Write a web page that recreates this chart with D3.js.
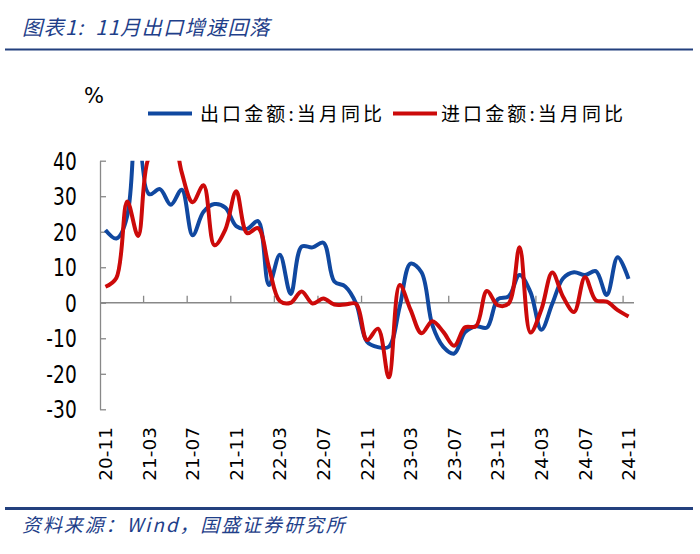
<!DOCTYPE html>
<html><head><meta charset="utf-8">
<script src="https://cdn.jsdelivr.net/npm/d3@7"></script>
<style>
body{margin:0;background:#fff;}
svg{display:block;}
</style></head>
<body>
<svg id="chart" width="700" height="554"></svg>
<script>
const categories = ["20-11","20-12","21-01","21-02","21-03","21-04","21-05","21-06","21-07","21-08","21-09","21-10","21-11","21-12",
"22-01","22-02","22-03","22-04","22-05","22-06","22-07","22-08","22-09","22-10","22-11","22-12",
"23-01","23-02","23-03","23-04","23-05","23-06","23-07","23-08","23-09","23-10","23-11","23-12",
"24-01","24-02","24-03","24-04","24-05","24-06","24-07","24-08","24-09","24-10","24-11"];
const exportsYoY = [20.5,18.1,24.5,154.9,30.6,32.0,27.6,31.8,19.0,25.6,27.8,26.8,21.6,20.8,
23.0,5.0,13.5,2.5,15.8,15.6,16.9,6.0,4.6,-0.2,-11.0,-12.5,
-12.4,-1.1,11.0,8.6,-6.3,-12.4,-14.3,-8.3,-6.6,-7.0,1.0,1.8,
7.8,3.0,-7.6,-0.3,6.9,8.6,7.8,8.9,2.2,12.8,6.7];
const importsYoY = [4.5,7.0,28.5,18.8,41.0,43.1,51.1,36.7,28.3,33.1,16.2,20.6,31.4,19.6,
21.0,10.0,0.5,0.0,3.2,-0.2,1.2,-0.5,-0.5,-0.3,-10.5,-7.3,
-21.0,5.0,-2.0,-8.6,-5.2,-8.2,-12.1,-6.9,-6.6,3.3,-0.7,-0.2,
15.6,-8.4,-1.9,8.5,1.6,-2.6,7.2,0.7,0.3,-2.1,-3.9];
const yTicks = [-30,-20,-10,0,10,20,30,40];
const xTickLabels = categories.filter((d,i)=>i%4===0);
const seriesNames = ["出口金额:当月同比","进口金额:当月同比"];
const seriesColors = ["#1048a0","#cc0a0a"];

const svg = d3.select("#chart");
const L = 100, R = 634, T = 160.7, B = 409.3;
const x = d3.scaleBand().domain(categories).range([L, R]).padding(0);
const y = d3.scaleLinear().domain([-30, 40]).range([B, T]);
const bw = x.bandwidth();

// title
const navy = "#1f3f8a";
svg.append("text").attr("x", 22).attr("y", 35)
  .attr("font-family", "'Noto Sans CJK SC', sans-serif").attr("font-style", "italic")
  .attr("font-size", 20.5).attr("fill", navy).attr("letter-spacing", 1.0)
  .attr("xml:space", "preserve")
  .text("图表1:  11月出口增速回落");
svg.append("line").attr("x1", 5).attr("x2", 693).attr("y1", 49.5).attr("y2", 49.5)
  .attr("stroke", "#23407e").attr("stroke-width", 2);

// footer
svg.append("line").attr("x1", 5).attr("x2", 693).attr("y1", 508.5).attr("y2", 508.5)
  .attr("stroke", "#23407e").attr("stroke-width", 3);
svg.append("text").attr("x", 22).attr("y", 532)
  .attr("font-family", "'Noto Sans CJK SC', sans-serif").attr("font-style", "italic")
  .attr("font-size", 19).attr("fill", navy).attr("letter-spacing", 1.9)
  .text("资料来源：Wind，国盛证券研究所");

// % unit
svg.append("text").attr("x", 84).attr("y", 103)
  .attr("font-family", "'DejaVu Sans', sans-serif").attr("font-size", 21).attr("fill", "#000")
  .text("%");

// legend
const lg = svg.append("g");
const legendItems = [{lx: 148, tx: 200}, {lx: 393, tx: 441}];
seriesNames.forEach((name, i) => {
  const it = legendItems[i];
  lg.append("line").attr("x1", it.lx).attr("x2", it.lx + 44).attr("y1", 113.5).attr("y2", 113.5)
    .attr("stroke", seriesColors[i]).attr("stroke-width", 4);
  lg.append("text").attr("x", it.tx).attr("y", 120.5)
    .attr("font-family", "'Noto Sans CJK SC', sans-serif").attr("font-size", 19)
    .attr("letter-spacing", 3.1).attr("fill", "#000").text(name);
});

// y axis
const yAxis = d3.axisLeft(y).tickValues(yTicks).tickSize(-6).tickSizeOuter(0).tickPadding(24)
  .tickFormat(d => String(d));
const gy = svg.append("g").attr("transform", `translate(${L},0)`).call(yAxis);
gy.select(".domain").attr("stroke", "#888").attr("stroke-width", 1.3);
gy.selectAll(".tick line").attr("stroke", "#888").attr("stroke-width", 1.3);
gy.selectAll(".tick text").attr("font-family", "'DejaVu Sans', sans-serif").attr("font-size", 20)
  .attr("fill", "#000").attr("x", -25).attr("dy", "0.36em")
  .attr("transform", "scale(0.93,1.2)");

// x axis (zero line + ticks at category boundaries)
svg.append("line").attr("x1", L).attr("x2", R).attr("y1", y(0)).attr("y2", y(0))
  .attr("stroke", "#888").attr("stroke-width", 1.3);
svg.append("g").selectAll("line").data(categories.filter((d,i)=>i%4===0 && i>0)).join("line")
  .attr("x1", d => x(d)).attr("x2", d => x(d)).attr("y1", y(0)).attr("y2", y(0) - 7)
  .attr("stroke", "#888").attr("stroke-width", 1.3);

const xAxis = d3.axisBottom(x).tickValues(xTickLabels).tickSize(0).tickPadding(0);
const gx = svg.append("g").attr("transform", `translate(0,427)`).call(xAxis);
gx.select(".domain").remove();
gx.selectAll(".tick text").attr("font-family", "'DejaVu Sans', sans-serif").attr("font-size", 18.5)
  .attr("fill", "#000").attr("transform", "rotate(-90)").attr("text-anchor", "end")
  .attr("x", 0).attr("y", 0).attr("dy", "0.36em");

// clip
svg.append("clipPath").attr("id", "plotclip").append("rect")
  .attr("x", L).attr("y", T).attr("width", R - L).attr("height", B - T);

const line = d3.line().x((d, i) => x(categories[i]) + bw / 2).y(d => y(d))
  .curve(d3.curveCatmullRom.alpha(0.5));
const plot = svg.append("g").attr("clip-path", "url(#plotclip)");
[exportsYoY, importsYoY].forEach((s, i) => {
  plot.append("path").datum(s).attr("d", line).attr("fill", "none")
    .attr("stroke", seriesColors[i]).attr("stroke-width", 4).attr("stroke-linejoin", "round");
});
</script>
</body></html>
